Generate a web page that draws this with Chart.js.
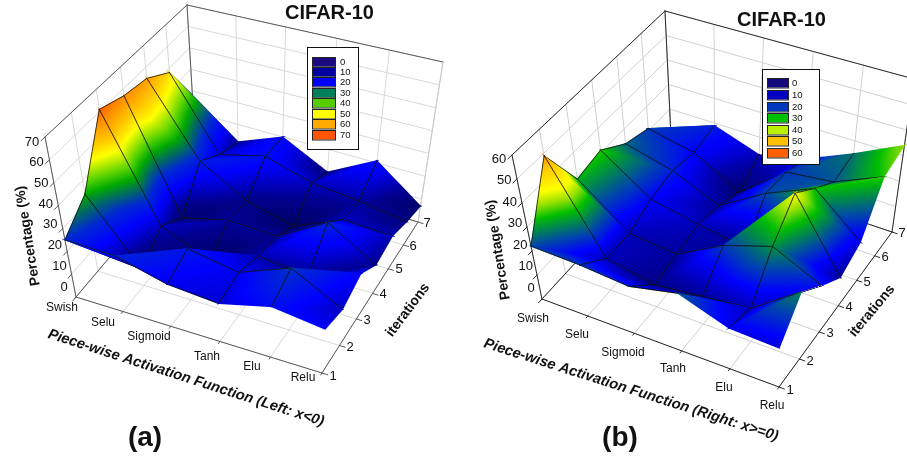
<!DOCTYPE html>
<html><head><meta charset="utf-8"><style>
html,body{margin:0;padding:0;background:#fff;width:907px;height:459px;overflow:hidden}
#wa,#wb{position:absolute;top:0;height:459px}
#wa{left:0;width:453px}#wb{left:453px;width:454px}
</style></head><body>
<div id="wa"><canvas id="ca" width="453" height="459"></canvas></div>
<div id="wb"><canvas id="cb" width="454" height="459"></canvas></div>
<script src="https://cdn.jsdelivr.net/npm/chart.js@4/dist/chart.umd.min.js"></script>
<script>
const categories=['Swish','Selu','Sigmoid','Tanh','Elu','Relu'];
const iterations=[1,2,3,4,5,6,7];
const zTicksLeft=[0,10,20,30,40,50,60,70];
const zTicksRight=[0,10,20,30,40,50,60];
const legendLeft=['0','10','20','30','40','50','60','70'];
const legendRight=['0','10','20','30','40','50','60'];
// Percentage per activation function, one list per iteration
const leftIter1=[25,24,18,16,21,18];
const leftIter2=[34,7,22,18,26,15];
const leftIter3=[61,15,6,14,12,19];
const leftIter4=[57,8,13,12,24,12];
const leftIter5=[55,23,11,6,15,14];
const leftIter6=[48,16,21,15,13,10];
const leftIter7=[28,12,20,10,21,7];
const rightIter1=[22,21,19,23,16,15];
const rightIter2=[49,13,9,11,13,26];
const rightIter3=[29,13,11,21,27,18];
const rightIter4=[31,17,13,10,38,11];
const rightIter5=[24,19,11,22,30,15];
const rightIter6=[21,17,7,21,23,31];
const rightIter7=[12,19,13,17,25,34];

function hom(q){const [a,b,c,d]=q;const dx1=b[0]-c[0],dx2=d[0]-c[0],sx=a[0]-b[0]+c[0]-d[0],dy1=b[1]-c[1],dy2=d[1]-c[1],sy=a[1]-b[1]+c[1]-d[1];const den=dx1*dy2-dx2*dy1;const g=(sx*dy2-dx2*sy)/den,h=(dx1*sy-sx*dy1)/den;const A=b[0]-a[0]+g*b[0],B=d[0]-a[0]+h*d[0],C=a[0],D=b[1]-a[1]+g*b[1],E=d[1]-a[1]+h*d[1],F=a[1];return (u,v)=>{const w=g*u+h*v+1;return [(A*u+B*v+C)/w,(D*u+E*v+F)/w]}}

const FONT='"Liberation Sans",Arial,sans-serif';
const panels={
 a:{canvas:'ca',xr:[0,453],rows:[leftIter1,leftIter2,leftIter3,leftIter4,leftIter5,leftIter6,leftIter7],warp:0.013,
  floor:hom([[76,297],[322,373],[418,222],[196,155]]),top:hom([[45,137],[334,203],[443,62],[187,5]]),zMax:70,zTicks:zTicksLeft,
  edge:'#5a5a5a',grid:'#d8d8d8',
  stops:[[0,10,0,80],[6,0,0,100],[12,0,0,145],[15,0,0,195],[19,0,0,255],[25,0,40,210],[30,0,110,90],[34,0,170,0],[38,85,210,0],[45,255,255,0],[50,255,200,0],[57,255,140,0],[62,255,85,0]],
  zl:[[64,287],[32,142]],
  cl:[[62,308],[103,323],[149,337],[207,357],[252,367],[303,378]],
  il:[[333,376],[350,347],[367,320],[383,294],[399,269],[413,246],[427,223]],
  ptitle:[28,236],xtitle:{s:'Piece-wise Activation Function (Left: x<0)',p:[186,378],r:17.8},
  ititle:{p:[408,310],r:-53},title:[329.5,13],tag:{s:'(a)',p:[145,438]},
  leg:{box:[307,47,51,102],sx:312,sw:23,tx:340,y:[57,67,77,88,98,109,119,130],h:9.5,labels:legendLeft,
   cols:['#1a0a80','#0000a0','#0000ff','#00805a','#55cc00','#ffff00','#ffaa00','#ff5500']}},
 b:{canvas:'cb',xr:[453,907],rows:[rightIter1,rightIter2,rightIter3,rightIter4,rightIter5,rightIter6,rightIter7],warp:0,
  floor:hom([[542,299],[779,387],[892,232],[672,158]]),top:hom([[512,155],[780,232],[914,79],[665,11]]),zMax:60,zTicks:zTicksRight,
  edge:'#2a2a2a',grid:'#d0d0d0',
  stops:[[0,10,0,80],[6,0,0,100],[12,0,0,170],[17,0,0,255],[22,0,70,170],[30,0,190,0],[34,150,225,0],[38,255,255,0],[45,255,200,0],[50,255,140,0],[60,255,96,0]],
  zl:[[531,288],[499,159]],
  cl:[[533,319],[577,335],[623,353],[673,369],[724,388],[772,406]],
  il:[[790,390],[810,361],[830,333],[849,307],[867,282],[885,257],[902,233]],
  ptitle:[498,250],xtitle:{s:'Piece-wise Activation Function (Right: x>=0)',p:[631,390],r:17.7},
  ititle:{p:[872,311],r:-50},title:[781.5,20],tag:{s:'(b)',p:[620,438]},
  leg:{box:[762,69,57,95],sx:767,sw:21,tx:792,y:[78,90,102,113,125,136,148],h:9.5,labels:legendRight,
   cols:['#14087e','#0000c0','#0038c0','#00c000','#bcee00','#ffc000','#ff6000']}}
};

function colorAt(st,z){if(z<=st[0][0])return st[0].slice(1);
 for(let i=1;i<st.length;i++){if(z<=st[i][0]){const a=st[i-1],b=st[i],t=(z-a[0])/(b[0]-a[0]);
  return [a[1]+(b[1]-a[1])*t,a[2]+(b[2]-a[2])*t,a[3]+(b[3]-a[3])*t]}}
 return st[st.length-1].slice(1)}

function project(p,u0,v,z){const u=u0-p.warp*Math.sin(Math.PI*u0);const F=p.floor(u,v),T=p.top(u,v),k=z/p.zMax;return [F[0]+(T[0]-F[0])*k,F[1]+(T[1]-F[1])*k]}

const surfacePlugin={id:'surface',afterDatasetsDraw(chart){
 const p=chart.config.options.plugins.surface.panel,ctx=chart.ctx,sx=chart.scales.x,sy=chart.scales.y;
 const px=q=>[sx.getPixelForValue(q[0]),sy.getPixelForValue(q[1])];
 const P=(u,v,z)=>px(project(p,u,v,z));
 const line=(a,b,c,w)=>{ctx.strokeStyle=c;ctx.lineWidth=w;ctx.beginPath();ctx.moveTo(a[0],a[1]);ctx.lineTo(b[0],b[1]);ctx.stroke()};
 const text=(s,q,font,rot,align,col)=>{const k=px(q);ctx.save();ctx.translate(k[0],k[1]);if(rot)ctx.rotate(rot*Math.PI/180);ctx.font=font;ctx.fillStyle=col||'#111';ctx.textAlign=align||'center';ctx.textBaseline='middle';ctx.fillText(s,0,0);ctx.restore()};
 const nU=categories.length-1,nV=iterations.length-1;
 ctx.save();ctx.lineCap='round';
 for(let i=0;i<=nU;i++){const u=i/nU;line(P(u,0,0),P(u,1,0),p.grid,1);line(P(u,1,0),P(u,1,p.zMax),p.grid,1)}
 for(let j=0;j<=nV;j++){const v=j/nV;line(P(0,v,0),P(1,v,0),p.grid,1);line(P(0,v,0),P(0,v,p.zMax),p.grid,1)}
 p.zTicks.forEach(z=>{line(P(0,0,z),P(0,1,z),p.grid,1);line(P(0,1,z),P(1,1,z),p.grid,1)});
 [[0,0,0,0,0,p.zMax],[0,0,p.zMax,0,1,p.zMax],[0,1,p.zMax,1,1,p.zMax],[0,1,0,0,1,p.zMax],[0,0,0,1,0,0],[1,0,0,1,1,0],[0,0,0,0,1,0],[0,1,0,1,1,0]].forEach(e=>line(P(e[0],e[1],e[2]),P(e[3],e[4],e[5]),p.edge,1));
 line(P(1,1,0),P(1,1,p.zMax),p.canvas==='cb'?p.edge:'#c8c8c8',1);
 p.zTicks.forEach(z=>line(P(0,0,z),P(0,-0.025,z),p.edge,1));
 for(let i=0;i<=nU;i++)line(P(i/nU,0,0),P(i/nU,-0.012,0),p.edge,1);
 for(let j=0;j<=nV;j++)line(P(1,j/nV,0),P(1.022,j/nV,0),p.edge,1);
 const off=document.createElement('canvas');off.width=chart.width;off.height=chart.height;const oc=off.getContext('2d');
 const V=(i,j)=>{const r=chart.data.datasets[j].data[i];return {q:px([r.x,r.y]),z:r.z}};
 const tri=(a,b,c)=>{
   const x0=Math.floor(Math.min(a.q[0],b.q[0],c.q[0]))-2,x1=Math.ceil(Math.max(a.q[0],b.q[0],c.q[0]))+2,y0=Math.floor(Math.min(a.q[1],b.q[1],c.q[1]))-2,y1=Math.ceil(Math.max(a.q[1],b.q[1],c.q[1]))+2;
   const w=x1-x0,h=y1-y0;if(w<=0||h<=0)return;
   const area=(b.q[0]-a.q[0])*(c.q[1]-a.q[1])-(b.q[1]-a.q[1])*(c.q[0]-a.q[0]);if(Math.abs(area)<1)return;
   const sg=area>0?1:-1;
   const edge=(m,n)=>{const dx=n.q[0]-m.q[0],dy=n.q[1]-m.q[1],l=Math.hypot(dx,dy)||1;return (x,y)=>sg*(dx*(y-m.q[1])-dy*(x-m.q[0]))/l};
   const e0=edge(b,c),e1=edge(c,a),e2=edge(a,b);
   const img=oc.createImageData(w,h),D=img.data;
   for(let y=0;y<h;y++)for(let x=0;x<w;x++){const X=x0+x+.5,Y=y0+y+.5,d0=e0(X,Y),d1=e1(X,Y),d2=e2(X,Y),m=Math.min(d0,d1,d2);
     if(m<-0.9)continue;
     const l0=((b.q[0]-X)*(c.q[1]-Y)-(b.q[1]-Y)*(c.q[0]-X))/area,l1=((c.q[0]-X)*(a.q[1]-Y)-(c.q[1]-Y)*(a.q[0]-X))/area,l2=1-l0-l1;
     const col=colorAt(p.stops,a.z*l0+b.z*l1+c.z*l2),o=(y*w+x)*4;
     D[o]=col[0];D[o+1]=col[1];D[o+2]=col[2];D[o+3]=255*Math.max(0,Math.min(1,m+0.9))}
   oc.clearRect(x0,y0,w,h);oc.putImageData(img,x0,y0);ctx.drawImage(off,x0,y0,w,h,x0,y0,w,h)};
 const E='#111',LW=0.8;
 for(let j=nV-1;j>=0;j--)for(let i=0;i<nU;i++){
   const A=V(i,j),B=V(i+1,j),C=V(i+1,j+1),D=V(i,j+1);
   tri(A,C,D);
   line(A.q,D.q,E,LW);
   if(j+1<nV)line(D.q,C.q,E,LW);
   tri(A,B,C);
   if(j>0||i<3)line(A.q,B.q,E,LW);
   if(i+1<nU)line(B.q,C.q,E,LW);
 }
 p.zTicks.forEach((z,i)=>{const k=i/(p.zTicks.length-1);text(String(z),[p.zl[0][0]+(p.zl[1][0]-p.zl[0][0])*k,p.zl[0][1]+(p.zl[1][1]-p.zl[0][1])*k],'13px '+FONT)});
 categories.forEach((c,i)=>text(c,p.cl[i],'12px '+FONT));
 iterations.forEach((c,i)=>text(String(c),p.il[i],'13px '+FONT));
 text('Percentage (%)',p.ptitle,'bold 14px '+FONT,-99);
 text(p.xtitle.s,p.xtitle.p,'italic bold 14.6px '+FONT,p.xtitle.r);
 text('iterations',p.ititle.p,'bold 14px '+FONT,p.ititle.r);
 text('CIFAR-10',p.title,'bold 20px '+FONT);
 text(p.tag.s,p.tag.p,'bold 28px '+FONT);
 const L=p.leg,b0=px([L.box[0],L.box[1]]),b1=px([L.box[0]+L.box[2],L.box[1]+L.box[3]]);
 ctx.fillStyle='#fff';ctx.fillRect(b0[0],b0[1],b1[0]-b0[0],b1[1]-b0[1]);
 ctx.strokeStyle='#111';ctx.lineWidth=1;ctx.strokeRect(Math.round(b0[0])+.5,b0[1]+.5,b1[0]-b0[0],b1[1]-b0[1]);
 L.labels.forEach((s,i)=>{const a=px([L.sx,L.y[i]]);ctx.fillStyle=L.cols[i];ctx.fillRect(a[0],a[1],L.sw,L.h);ctx.strokeStyle='#222';ctx.strokeRect(Math.round(a[0])+.5,Math.round(a[1])+.5,L.sw,L.h);
   text(s,[L.tx,L.y[i]+L.h/2+.5],'9.5px '+FONT,0,'left')});
 ctx.restore();
}};

Object.values(panels).forEach(p=>{
 new Chart(document.getElementById(p.canvas),{type:'scatter',plugins:[surfacePlugin],
  data:{datasets:p.rows.map((row,j)=>({label:'Iteration '+iterations[j],showLine:false,pointRadius:0,
    data:row.map((z,i)=>{const q=project(p,i/(categories.length-1),j/(iterations.length-1),z);return {x:q[0],y:q[1],z:z,category:categories[i]}})}))},
  options:{responsive:false,animation:false,layout:{padding:0},events:[],
   scales:{x:{type:'linear',display:false,min:p.xr[0],max:p.xr[1]},y:{type:'linear',display:false,min:0,max:459,reverse:true}},
   plugins:{legend:{display:false},tooltip:{enabled:false},title:{display:false},surface:{panel:p}}}});
});
</script></body></html>
